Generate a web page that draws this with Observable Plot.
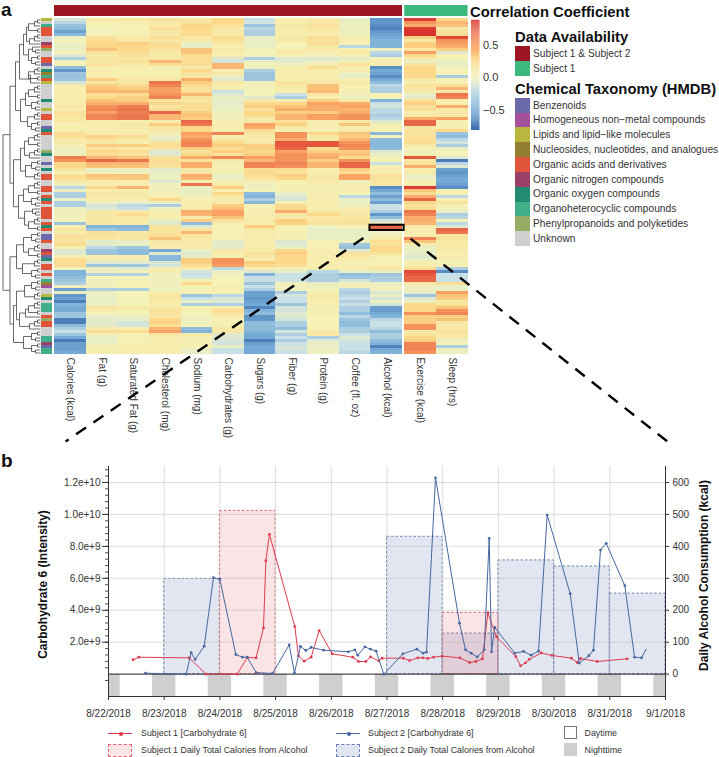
<!DOCTYPE html>
<html><head><meta charset="utf-8">
<script src="https://cdn.jsdelivr.net/npm/d3@7"></script>
<script src="https://cdn.jsdelivr.net/npm/@observablehq/plot@0.6"></script>
<style>
html,body{margin:0;background:#fff;font-family:"Liberation Sans",Arial,sans-serif;color:#333}
#fig{position:relative;width:719px;height:757px;overflow:hidden}
#fig>*{position:absolute}
.t{white-space:nowrap;line-height:1}
.h{font-weight:bold;font-size:14.8px;color:#111}
.l{font-size:10.2px;color:#333}
.k{font-size:8.9px;color:#333}
</style></head><body><div id="fig"></div>
<script>
const columnNames=["Calories (kcal)","Fat (g)","Saturated Fat (g)","Cholesterol (mg)","Sodium (mg)","Carbohydrates (g)","Sugars (g)","Fiber (g)","Protein (g)","Coffee (fl. oz)","Alcohol (kcal)","Exercise (kcal)","Sleep (hrs)"];
const calories=[[-.15,-.25,-.38,-.4,-.55,-.42,-.05,0,-.05,-.05,-.05,0,-.1,-.3,-.02,0,-.4,-.6,-.35,-.38,-.35,-.15,.05,.05,.05,.05],
[.05,.05,.05,.12,.05,.15,.15,.1,.1,0,.05,.05,.2,.2,.08,.08,.03,-.03,-.03,-.03,.62,.55,.25,.25,.15,0],
[.2,.2,.1,-.03,-.25,-.03,-.3,-.3,-.03,-.3,-.3,-.03,-.02,-.02,-.02,-.02,-.35,.05,.1,.05,.15,.15,.15,.22,.05,-.1],
[-.1,.05,.2,.22,.22,-.02,-.45,-.45,-.4,-.35,-.3,-.02,-.55,-.05,-.6,-.55,-.72,-.45,-.5,-.5,-.35,-.35,-.72,-.72,-.4,-.3],
[-.2,-.35,-.5,-.75,-.55,-.55,-.55,-.5]];
const fat=[[.08,.02,.02,0,-.02,0,.15,.2,.25,.25,.35,.15,.1,.1,.1,.15,.05,.05,.05,.05,.3,.1,.3,.35,.4,.2],
[.25,.35,.45,.55,.58,.5,.6,.6,.05,.08,.05,.05,.05,.28,.15,.1,.3,.15,.25,.2,.4,.7,.4,.35,-.05,-.03],
[.35,.3,.05,.05,.25,.05,.1,.1,.05,-.02,-.15,-.1,.1,.1,.12,.1,.1,-.45,-.35,.15,.15,.12,-.08,-.08,-.25,-.35],
[-.35,.05,.05,-.1,-.35,-.03,-.03,-.28,0,-.02,-.02,-.02,-.3,-.05,-.05,-.05,-.05,-.05,.15,.05,0,-.08,-.08,-.08,-.08,.05],
[.2,-.02,-.05,-.05,-.05,.03,.03,.03]];
const saturatedFat=[[.12,.05,.03,.03,0,.03,.08,.1,.3,.25,.25,.2,.15,.1,.18,.08,.05,.05,.05,.05,.12,.1,.25,.3,.4,.2],
[.3,.3,.45,.62,.65,.62,.65,.65,.05,.1,.08,.05,.05,.2,.1,.05,.3,.1,.2,.15,.35,.65,.4,.35,-.03,-.03],
[.35,.33,.05,.05,.4,.05,.08,.08,.03,-.05,-.25,-.2,.08,.2,.1,.08,.08,-.45,-.4,.1,.12,.1,-.05,-.05,-.35,-.4],
[-.4,.05,.05,-.1,-.35,-.1,.02,-.28,0,.02,.02,.02,-.3,0,0,0,0,0,.1,.03,0,-.05,-.05,-.15,-.15,.05],
[.2,.02,.02,.03,.03,.05,.05,.05]];
const cholesterol=[[.15,.08,.08,.18,.1,.1,.2,.1,.2,.2,.15,.1,.1,.1,.4,.2,.03,.03,.03,.03,.1,.65,.6,.5,.5,.55],
[.6,.15,.25,.12,.2,.7,.4,.4,.05,.3,.12,.1,.03,-.05,-.05,.15,.2,.12,-.1,-.1,.15,.2,.2,.15,-.08,-.05],
[-.05,-.03,-.12,-.02,-.02,-.02,-.02,.05,.25,-.05,-.3,-.02,.03,.05,.03,-.05,-.1,.15,.15,.15,.2,.35,.1,.08,.05,-.5],
[-.1,-.42,-.42,-.12,-.15,.05,.05,-.02,-.02,-.02,-.02,-.02,-.03,.05,.12,.12,.1,.05,.1,.15,.15,.1,.25,.28,.2,.4],
[.5,.1,.05,.05,.05,.05,.05,.05]];
const sodium=[[.12,.15,.25,.25,.2,.25,.1,.1,-.05,-.05,.35,.35,.2,.2,.2,.2,.1,.25,.15,.1,.45,.3,.25,.15,.2,.4],
[.15,.12,.18,.22,.2,.3,.35,.3,.7,.65,.25,.25,.5,.45,.55,.6,.6,.3,.15,.25,.45,.15,.45,.45,.1,.1],
[.45,.4,.05,.65,-.03,-.05,-.05,-.02,.03,.05,.05,.08,.45,.4,.08,.3,-.4,-.1,.12,.4,.12,.1,.08,.08,.08,-.05],
[-.1,-.05,.3,.3,.2,.05,-.15,-.2,-.15,.02,.25,.03,0,.02,-.35,-.2,-.05,-.3,.03,.03,0,-.02,-.03,-.03,0,-.4],
[-.45,.08,.03,.03,.03,.03,-.05,-.05]];
const carbohydrates=[[.25,.25,.18,.1,.1,.1,.22,.18,.08,.05,.1,.05,.05,-.1,-.15,.4,.4,.05,.1,-.05,-.1,.1,.05,.05,-.2,-.1],
[-.05,-.05,-.08,-.05,-.05,-.03,-.02,-.02,.03,.05,.05,.05,.6,.03,.08,.25,.3,.2,.3,.15,.6,.08,.03,.03,.03,.03],
[-.05,-.05,.03,.08,.3,.05,.25,.08,.08,.08,.3,.38,.5,.5,.35,.15,.05,0,.02,.02,.02,.03,-.08,-.08,-.08,.08],
[.05,.05,.55,.55,.5,-.25,-.05,-.02,0,0,0,.03,.03,.03,-.25,-.12,-.1,-.3,.05,.2,.15,.05,.03,.03,.03,.1],
[.1,-.1,-.1,-.15,-.15,-.05,-.2,-.2]];
const sugars=[[-.2,-.15,-.35,-.25,-.3,-.3,-.05,-.05,-.05,-.05,-.02,.02,-.02,-.3,-.05,0,-.05,-.3,-.35,-.35,-.35,-.02,-.02,-.02,0,0],
[-.1,.08,.25,.3,.15,.25,.25,.08,.08,.5,.45,.2,.12,.08,.05,.1,.3,.3,.25,.3,.5,.4,.6,.6,.2,.25],
[.2,.12,.03,-.03,-.03,0,-.4,-.45,-.3,-.42,.02,.03,.05,.05,.05,.08,.05,.3,.08,.06,.06,.06,.06,.06,.08,.08],
[.15,.1,.05,.3,.25,.05,-.1,-.45,-.2,-.2,-.35,-.2,-.3,-.55,-.55,-.6,-.55,-.5,-.68,-.45,-.4,-.62,-.6,-.4,-.4,-.4],
[-.45,-.5,-.5,-.72,-.55,-.5,-.5,-.5]];
const fiber=[[.05,.05,.08,.08,.05,.05,.1,.08,0,0,.05,.1,.02,-.1,-.08,-.02,.05,.05,.05,.05,.05,.15,.1,.08,.05,-.2],
[-.3,.05,.25,.35,.45,.3,.4,.4,.2,.3,.1,.05,.55,.55,.45,.75,.75,.7,.5,.55,.55,.55,.6,.55,.2,.15],
[.3,.25,.03,.03,.03,.03,-.05,-.12,-.12,.02,.22,.25,.45,.1,.1,.3,.28,.03,.03,.03,.03,.03,-.1,-.1,-.05,.25],
[.3,.25,.25,.25,.2,.02,-.05,-.2,-.2,-.18,-.02,-.02,-.02,-.3,-.15,-.2,-.2,-.35,-.15,-.15,-.1,-.1,-.15,-.3,-.3,-.4],
[-.15,-.3,-.2,-.3,-.2,-.15,-.15,-.2]];
const protein=[[.1,.1,.15,.12,.08,.05,.2,.15,.2,.1,.08,.05,-.02,-.1,-.05,.05,.2,.05,.05,.05,.05,.1,.35,.35,.4,.1],
[.05,.3,.5,.45,.45,.3,.5,.5,.05,.03,.05,.03,.25,.1,.08,.75,.75,.2,.3,.4,.45,.3,.4,.4,.05,.05],
[.1,.08,.08,.03,.03,.03,.03,.05,.05,.05,.05,.05,.1,.25,.12,.12,.15,-.03,-.05,-.05,-.05,-.05,.02,.02,.02,.05],
[.05,.05,.05,.05,.05,.05,-.25,-.3,-.3,-.3,-.05,-.03,0,.03,.08,.08,.05,.05,.03,.03,.03,0,0,0,.02,.02],
[.1,.1,-.3,-.1,-.05,-.05,-.03,-.03]];
const coffee=[[-.08,-.03,-.03,-.03,-.03,-.03,.03,.05,.03,-.25,.05,.1,.03,-.08,.02,.15,.05,.05,-.03,-.08,.05,.1,.05,.03,.03,-.02],
[-.03,.1,.45,.5,.4,.45,.55,.55,.08,.35,.05,.08,.35,.3,.4,.55,.6,.55,.3,.35,.2,.55,.7,.7,.3,.2],
[.48,.48,-.03,.03,.05,.05,0,-.25,-.05,-.03,-.03,.05,.08,.1,.12,.15,.15,.05,-.05,-.05,-.05,-.05,-.03,-.33,-.38,-.1],
[.15,.12,.05,.03,.03,.05,-.05,-.4,-.35,-.15,-.02,-.02,-.25,-.3,-.25,-.2,-.3,-.2,-.3,-.3,-.4,-.25,-.35,-.4,-.4,-.3],
[-.3,-.2,-.1,-.15,-.2,-.2,-.2,-.25]];
const alcohol=[[-.6,-.6,-.65,-.7,-.6,-.55,-.5,-.45,-.45,-.45,-.03,-.25,-.3,-.02,.05,.05,-.65,-.5,-.55,-.65,-.5,-.4,-.25,-.3,-.3,.02],
[0,-.45,-.2,-.15,-.25,-.25,-.3,-.25,-.1,.03,.03,.03,-.42,0,-.4,-.42,-.42,-.4,-.1,-.05,0,.03,-.2,.03,.05,.05],
[.15,.15,.12,.1,-.65,-.5,-.4,-.55,-.4,-.55,-.2,-.2,-.3,-.6,-.4,-.15,-.05,.7,.7,-.03,-.02,.1,.2,.15,.25,.25],
[.15,.03,.03,.02,.05,.12,-.05,-.35,-.3,-.3,-.05,-.02,-.02,-.12,-.05,-.15,-.03,-.15,-.55,-.58,-.5,-.45,-.25,-.2,-.2,-.25],
[-.4,-.3,-.3,-.4,-.45,-.7,-.5,-.45]];
const exercise=[[.85,.55,.45,.85,.9,.88,.3,.1,.3,.3,.1,.5,.25,.1,-.05,.15,.25,.25,.25,.25,.1,.05,.15,.1,.1,-.05],
[-.08,.2,.3,.15,.2,.05,.1,.45,.7,.7,.1,.15,.15,.15,.2,.2,.08,.02,-.03,.03,.75,.1,.15,.45,.05,.08],
[-.05,-.03,.02,.05,.85,.35,.2,.45,.7,.25,.15,.2,.65,.6,.45,.45,.4,.08,.05,.05,.05,.6,.35,.05,-.05,-.05],
[-.05,-.1,-.05,.05,.05,.2,.8,.75,.7,.7,.1,-.03,-.03,-.05,-.35,-.1,-.03,.25,.25,.25,.55,.3,.3,.3,.55,.55],
[.1,.15,.25,.3,.6,.6,.6,.55]];
const sleep=[[.25,.4,.35,.08,.15,.2,.8,.55,.5,.45,.3,-.1,.02,0,-.05,-.05,-.02,0,0,-.3,0,.02,.2,.4,.1,.65],
[.6,.05,.05,.45,.1,.1,.08,.5,.05,.03,.03,.25,-.35,-.4,-.25,-.15,-.3,-.05,0,0,-.1,-.75,-.25,-.1,-.55,-.6],
[-.55,-.5,-.5,-.55,-.65,.03,.03,-.25,0,.15,0,-.02,-.05,-.3,-.25,0,-.25,-.1,.7,.65,.12,.15,.1,.1,.08,.08],
[.05,.05,.05,0,.02,-.3,-.65,-.2,-.2,-.2,.2,-.05,-.05,.5,.35,.3,.1,.15,.35,.55,.6,.3,.35,.1,.08,.08],
[.15,.12,.1,-.05,.02,-.3,-.03,-.03]];
const columnValues=[calories,fat,saturatedFat,cholesterol,sodium,carbohydrates,sugars,fiber,protein,coffee,alcohol,exercise,sleep];

const availability=[["Subject 1 & Subject 2","#9d1722"],["Subject 1","#3db87c"]];
const taxonomy=[["B","Benzenoids","#6a69a9"],["H","Homogeneous non\u2212metal compounds","#a5509a"],["L","Lipids and lipid\u2212like molecules","#b9b83e"],["N","Nucleosides, nucleotides, and analogues","#937f2f"],["A","Organic acids and derivatives","#e0543a"],["G","Organic nitrogen compounds","#9a4068"],["O","Organic oxygen compounds","#228b74"],["C","Organoheterocyclic compounds","#40ae88"],["P","Phenylpropanoids and polyketides","#94ac64"],["U","Unknown","#cfcfcf"]];
const rowTaxa="LUCAAAUUGAPUUAABUONCALUUUUUOUULUAAUUBOAUUUUUPOUUBUOUAAUUAAUAOAUAAAAUAOAUBBAUUGABOUAAUAUCNHUULOUCCCUAPAAUUUCCGBCC".split("");

// dendrogram shape: [height, left, right], 0 = leaf
const n2=[3,0,0],n2b=[5,0,0],n3=[6,n2,0],n3b=[8,0,n2b],n4=[9,n2,n2b],n4b=[11,n3,0],n5=[12,n3,n2];
const A1a=[21,[17,[14,n5,n4b],[12,n3b,n4]],[10,n5,0]];
const A1b=[20,[15,n5,n4],[13,n3,n4]];
const A2=[27,[20,[16,n5,n4b],[15,n4,n3]],[22,[17,n5,n4],[16,n3b,n5]]];
const B1=[24,[17,n4,n5],[18,n3,n4]];
const B2=[27,[24,[16,n4,n3],[21,[15,n5,0],n4b]],[17,n4,n4]];
const tree=[37.5,[30.5,[25,A1a,A1b],A2],[30.5,B1,B2]];

const colorDomain=[-.82,-.5,-.2,0,.25,.5,.88];
const colorRange=["#3a6cae","#74aad5","#c8e0e6","#f5f2b8","#fcd98a","#f8a163","#d8322c"];
const colorTicks=[-.5,0,.5];

// panel b, days counted from 8/22/2018
const s1Days=[.443,.545,1.448,1.753,2.31,2.49,2.65,2.783,2.825,2.89,3.345,3.41,3.513,3.638,3.782,4.016,4.386,4.488,4.62,4.704,4.853,4.913,5.29,5.404,5.553,5.643,5.733,5.835,5.99,6.308,6.481,6.595,6.715,6.81,6.966,7.313,7.397,7.487,7.553,7.768,7.96,8.313,8.415,8.475,8.773,9.312];
const s1Intensity=[.9,1.06,1.02,0,0,1.04,1.02,2.9,7.1,8.75,2.98,1.15,.81,1.06,2.73,1.27,1.06,.79,.79,1.08,.83,1,1,.85,1.02,1.02,.98,1.06,1.13,1.02,.73,.79,.96,3.83,2.33,1.1,.52,.71,.92,1.33,1.17,1,.73,.98,.79,.96];
const s2Days=[.664,1.394,1.484,1.556,1.718,1.885,1.999,2.286,2.406,2.49,2.651,2.944,3.244,3.339,3.447,3.543,3.638,3.86,4.303,4.423,4.476,4.602,4.704,4.805,4.943,5.285,5.535,5.649,5.709,5.871,6.302,6.41,6.511,6.619,6.745,6.835,6.876,6.936,7.295,7.451,7.588,7.72,7.876,8.289,8.451,8.623,8.707,8.833,8.935,9.27,9.444,9.569,9.653];
const s2Intensity=[.06,0,1.35,.92,1.75,6.04,5.94,1.23,1.06,1.06,.1,.04,1.83,.08,1.73,1.48,1.67,1.5,1.4,1.52,1.19,1.71,1.56,1.44,0,1.27,1.56,1.31,1.38,12.29,3.19,1.52,1.31,1.08,1.52,8.5,1.4,2.92,1.31,1.42,1.19,1.44,9.96,5.04,.69,1.15,1.5,7.77,8.19,5.54,1.06,1.02,1.56];
const s1AlcoholDays=[2,6],s1Alcohol=[511,192];
const s2AlcoholDays=[1,5,6,7,8,9],s2Alcohol=[298,430,127,356,337,252];
const nightSpans=[[0,.21],[.79,1.21],[1.79,2.21],[2.79,3.21],[3.79,4.21],[4.79,5.21],[5.79,6.21],[6.79,7.21],[7.79,8.21],[8.79,9.21],[9.79,10]];
const leftTicks=[2,4,6,8,10,12].map(d=>d*1e9);
const rightTicks=[0,100,200,300,400,500,600];
const minorTicks=d3.range(-1,33).map(d=>d*4e8).filter(d=>d!==0);

const font='"Liberation Sans",Arial,sans-serif';
const base={style:{fontFamily:font,background:"transparent",overflow:"visible",color:"#333"}};
const fig=document.getElementById("fig");
function place(el,left,top){el.style.left=left+"px";el.style.top=top+"px";fig.appendChild(el);return el}
function text(str,cls,left,centerY){const e=document.createElement("div");e.className="t "+cls;e.textContent=str;place(e,left,centerY);e.style.transform="translateY(-50%)";return e}
function box(left,top,w,h,css){const e=document.createElement("div");e.style.width=w+"px";e.style.height=h+"px";e.style.boxSizing="border-box";Object.assign(e.style,css||{});return place(e,left,top)}

// top heat map
const cellData=[];
columnValues.forEach((c,i)=>c.flat().forEach((v,r)=>cellData.push({x1:i<11?i:i+.07,row:r,v})));
const groups=[{a:0,b:11,fill:availability[0][1]},{a:11.07,b:13.07,fill:availability[1][1]}];
const labels=columnNames.map((n,i)=>({n,x:(i<11?i:i+.07)+.5}));
const highlightColumn=10,highlightRow=69;
const connectors=[{x1:highlightColumn,x2:.35},{x1:highlightColumn+1.03,x2:19.37}];
const heat=Plot.plot({...base,width:719,height:445,margin:0,
  x:{axis:null,domain:[-54/31.64,665/31.64],range:[0,719]},
  y:{axis:null,domain:[-6,142.33],range:[0,445]},
  color:{type:"linear",domain:colorDomain,range:colorRange,clamp:true},
  marks:[
    Plot.rect(cellData,{x1:"x1",x2:d=>d.x1+1,y1:"row",y2:d=>d.row+1,fill:"v",shapeRendering:"crispEdges"}),
    Plot.rect(groups,{x1:"a",x2:"b",y1:()=>-4.33,y2:()=>-.67,fill:d=>d.fill}),
    Plot.text(labels,{x:"x",y:()=>113,text:"n",rotate:90,textAnchor:"start",fontSize:10,fill:"#333"}),
    Plot.link(connectors,{x1:"x1",x2:"x2",y1:()=>highlightRow+2.5,y2:()=>141,stroke:"#000",strokeWidth:2.4,strokeDasharray:"12,9",strokeDashoffset:-9}),
    Plot.rect([highlightRow],{x1:()=>highlightColumn-.03,x2:()=>highlightColumn+1.05,y1:d=>d-.1,y2:d=>d+1.65,stroke:"#000",strokeWidth:2,fill:"none"})
  ]});
heat.style.pointerEvents="none";place(heat,0,0);

// dendrogram
const links=[];let leaf=0;
(function walk(n){
  if(n===0)return{y:.5+leaf++,d:0};
  const a=walk(n[1]),b=walk(n[2]);
  links.push({x1:n[0],x2:n[0],y1:a.y,y2:b.y},{x1:a.d,x2:n[0],y1:a.y,y2:a.y},{x1:b.d,x2:n[0],y1:b.y,y2:b.y});
  return{y:(a.y+b.y)/2,d:n[0]};
})(tree);
place(Plot.plot({...base,width:41,height:336,margin:0,
  x:{axis:null,domain:[40,0],range:[0,40]},y:{axis:null,domain:[0,112],range:[0,336]},
  marks:[Plot.link(links,{x1:"x1",x2:"x2",y1:"y1",y2:"y2",stroke:"#444",strokeWidth:.8})]}),0,18);

// taxonomy strip
const taxFill=Object.fromEntries(taxonomy.map(d=>[d[0],d[2]]));
place(Plot.plot({...base,width:11,height:336,margin:0,
  x:{axis:null},y:{axis:null,domain:d3.range(rowTaxa.length),padding:0},
  marks:[Plot.cell(rowTaxa.map((t,r)=>({t,r})),{y:"r",fill:d=>taxFill[d.t],shapeRendering:"crispEdges"})]}),41,18);

// colour bar
const steps=d3.range(-.815,.877,.015);
place(Plot.plot({...base,width:48,height:110,marginTop:0,marginBottom:0,marginLeft:0,marginRight:39.5,
  x:{axis:null,domain:[0,1]},y:{domain:[-.815,.877],axis:null},
  color:{type:"linear",domain:colorDomain,range:colorRange,clamp:true},
  marks:[
    Plot.rect(steps,{x1:()=>0,x2:()=>1,y1:d=>d,y2:d=>d+.016,fill:d=>d}),
    Plot.axisY({anchor:"right",ticks:colorTicks,tickSize:0,tickPadding:3,fontSize:11,label:null,fill:"#333"})
  ]}),471,20);

text("a","",1,9).style.cssText+="font-weight:bold;font-size:19px;color:#111";
text("b","",1,460).style.cssText+="font-weight:bold;font-size:19px;color:#111";
text("Correlation Coefficient","h",470,11.5);
text("Data Availability","h",515,37);
availability.forEach((d,i)=>{box(515,46+15*i,15,15,{background:d[1]});text(d[0],"l",533,53.5+15*i)});
text("Chemical Taxonomy (HMDB)","h",515,89);
taxonomy.forEach((d,i)=>{box(515,97.7+14.83*i,15,14.83,{background:d[2]});text(d[1],"l",533,105.5+14.8*i)});

// panel b
const day=d=>new Date(Date.UTC(2018,7,22)+d*864e5);
const K=2e7;
const rectOf=(days,vals)=>days.map((d,i)=>({d,v:vals[i]}));
const lineOf=(days,vals)=>days.map((d,i)=>({t:day(d),y:vals[i]*1e9}));
const line1=lineOf(s1Days,s1Intensity),line2=lineOf(s2Days,s2Intensity);
const red="#dd3c4e",blue="#46689f";
const alcoholRect=(data,fill,stroke)=>Plot.rect(data,{x1:d=>day(d.d),x2:d=>day(d.d+1),y1:()=>0,y2:d=>d.v*K,fill,fillOpacity:.15,stroke,strokeDasharray:"2.5,2",strokeWidth:1});
const chartB=Plot.plot({...base,width:719,height:266,marginTop:6,marginBottom:30,marginLeft:108,marginRight:54,
  x:{type:"utc",domain:[day(0),day(10)],axis:null},
  y:{domain:[-1.4e9,1.3e10],axis:null},
  marks:[
    Plot.rect(nightSpans,{x1:d=>day(d[0]),x2:d=>day(d[1]),y1:()=>0,y2:()=>-1.4e9,fill:"#cfcfcf"}),
    alcoholRect(rectOf(s2AlcoholDays,s2Alcohol),"#3f5a9e","#6b80b4"),
    alcoholRect(rectOf(s1AlcoholDays,s1Alcohol),"#e04a50","#de6273"),
    Plot.gridY({ticks:leftTicks,stroke:"#bbb",strokeOpacity:.5}),
    Plot.gridX({ticks:d3.range(1,10).map(day),stroke:"#bbb",strokeOpacity:.5,y1:()=>0,y2:()=>1.3e10}),
    Plot.ruleY([0],{stroke:"#222",strokeWidth:1}),
    Plot.line(line1,{x:"t",y:"y",stroke:red,strokeWidth:1}),
    Plot.dot(line1,{x:"t",y:"y",r:1.4,fill:red}),
    Plot.line(line2,{x:"t",y:"y",stroke:blue,strokeWidth:1}),
    Plot.dot(line2.slice(0,-1),{x:"t",y:"y",r:1.4,fill:blue}),
    Plot.ruleX([day(0),day(10)],{stroke:"#333"}),
    Plot.ruleY([-1.4e9],{stroke:"#333"}),
    Plot.axisY({anchor:"left",ticks:minorTicks,tickSize:3,tickFormat:()=>"",label:null,stroke:"#555"}),
    Plot.axisY({anchor:"left",ticks:leftTicks,tickSize:6,tickPadding:2,tickFormat:d3.format(".1e"),label:null,fontSize:10,stroke:"#333",fill:"#333"}),
    Plot.axisY({anchor:"right",ticks:rightTicks.map(d=>d*K),tickSize:3,tickPadding:4,tickFormat:d=>d/K,label:null,fontSize:10,stroke:"#333",fill:"#333"}),
    Plot.axisX({ticks:d3.range(0,11).map(day),tickSize:4,tickPadding:9,tickFormat:d=>`${d.getUTCMonth()+1}/${d.getUTCDate()}/${d.getUTCFullYear()}`,label:null,fontSize:10,stroke:"#333",fill:"#333"}),
    Plot.text(["Carbohydrate 6 (Intensity)"],{frameAnchor:"left",textAnchor:"middle",dx:-65,dy:3,rotate:-90,fontWeight:"bold",fontSize:12,fill:"#111"}),
    Plot.text(["Daily Alcohol Consumption (kcal)"],{frameAnchor:"right",textAnchor:"middle",dx:39,dy:-6,rotate:-90,fontWeight:"bold",fontSize:12,fill:"#111"})
  ]});
place(chartB,0,460);

// panel b legend
function lineKey(left,top,color){box(left,top,24,1,{background:color});box(left+10.5,top-1.5,4,4,{background:color,borderRadius:"50%"})}
lineKey(108,733,red);text("Subject 1 [Carbohydrate 6]","k",141,733);
lineKey(336,733,blue);text("Subject 2 [Carbohydrate 6]","k",368,733);
box(108,744,24,13,{background:"rgba(224,74,80,.15)",border:"1px dashed #de6273"});text("Subject 1 Daily Total Calories from Alcohol","k",141,750);
box(336,744,24,13,{background:"rgba(63,90,158,.15)",border:"1px dashed #6b80b4"});text("Subject 2 Daily Total Calories from Alcohol","k",368,750);
box(564,726,13,13,{border:"1px solid #777"});text("Daytime","k",584.5,733);
box(564,743,13,13,{background:"#cfcfcf"});text("Nighttime","k",584.5,750);
</script></body></html>
